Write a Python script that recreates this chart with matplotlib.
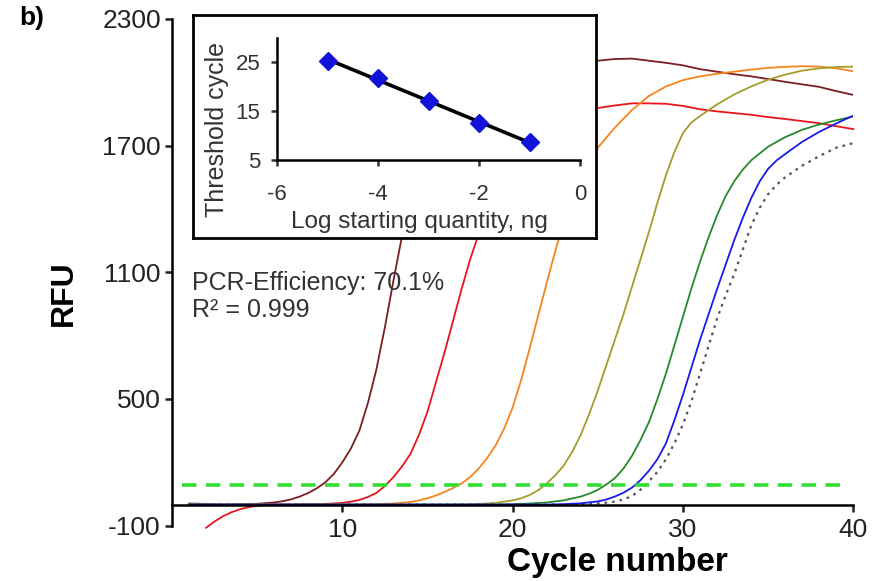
import numpy as np
import matplotlib
matplotlib.use("Agg")
import matplotlib.pyplot as plt

plt.rcParams['font.family'] = ['Liberation Sans', 'DejaVu Sans']
plt.rcParams['axes.unicode_minus'] = False

## amplification curves (cycle, RFU)
maroon_x = [1, 2, 3, 4, 5, 6, 6.5, 7, 7.5, 8, 8.5, 9, 9.5, 10, 10.5, 11, 11.5, 12, 12.5, 13, 13.5,
            14, 14.5, 15, 15.5, 16] + list(range(17, 41))
maroon_y = [5, 3, 0, 2, 4, 10, 16, 25, 38, 55, 77, 105, 145, 200, 265, 350, 480, 640, 840, 1060, 1270,
            1470, 1650, 1800, 1910, 1980,
            2060, 2090, 2095, 2100, 2098, 2100, 2102, 2100, 2102, 2110, 2112, 2102, 2092, 2080, 2062, 2050,
            2038, 2028, 2015, 2002, 1990, 1978, 1958, 1940]

red_x = [2, 2.5, 3, 3.5, 4, 4.5, 5, 6, 7, 8, 9, 10, 10.5, 11, 11.5, 12, 12.5, 13, 13.5, 14, 14.5, 15,
         15.5, 16, 16.5, 17, 17.5, 18, 18.5, 19, 19.5, 20] + list(range(21, 41))
red_y = [-110, -80, -55, -36, -22, -12, -6, 0, 0, 2, 3, 8, 14, 22, 36, 55, 88, 130, 180, 240, 330, 440,
         580, 720, 870, 1020, 1160, 1280, 1400, 1500, 1590, 1660,
         1760, 1820, 1850, 1868, 1878, 1890, 1900, 1900, 1898, 1888, 1872, 1862, 1854, 1846, 1835, 1826,
         1816, 1806, 1792, 1778]

orange_x = list(range(1, 14)) + [14, 14.5, 15, 15.5, 16, 16.5, 17, 17.5, 18, 18.5, 19, 19.5, 20, 20.5,
                                 21, 21.5, 22, 22.5, 23, 23.5, 24, 24.5, 25] + list(range(26, 41))
orange_y = [2, 0, -2, 0, 2, 0, 0, 0, 0, 0, 0, 2, 5,
            12, 20, 30, 43, 60, 78, 100, 130, 170, 220, 280, 360, 460, 590,
            740, 895, 1050, 1200, 1340, 1455, 1550, 1625, 1690,
            1785, 1868, 1935, 1980, 2010, 2028, 2040, 2050, 2060, 2068, 2073, 2076, 2074, 2066, 2052]

olive_x = list(range(1, 21)) + [20.5, 21, 21.5, 22, 22.5, 23, 23.5, 24, 24.5, 25, 25.5, 26, 26.5, 27,
                                27.5, 28, 28.5, 29, 29.5, 30, 30.5] + list(range(31, 41))
olive_y = [0, 0, 0, 0, 0, 0, 0, 0, 0, 0, 0, 0, 0, 0, 0, 0, 1, 3, 8, 20,
           30, 45, 68, 100, 138, 185, 250, 330, 430, 540, 660, 780, 900, 1030,
           1160, 1290, 1430, 1560, 1670, 1760, 1810,
           1840, 1895, 1942, 1980, 2012, 2036, 2055, 2066, 2072, 2074]

green_x = list(range(1, 25)) + [24.5, 25, 25.5, 26, 26.5, 27, 27.5, 28, 28.5, 29, 29.5, 30, 30.5, 31,
                                31.5, 32, 32.5, 33, 33.5, 34] + list(range(35, 41))
green_y = [0, 0, 0, 0, 0, 0, 0, 0, 0, 0, 0, 0, 0, 0, 0, 0, 0, 0, 0, 2, 5, 10, 20, 38,
           52, 70, 95, 125, 170, 230, 305, 390, 500, 620, 755, 890, 1025, 1150,
           1265, 1370, 1460, 1530, 1585, 1630,
           1695, 1740, 1775, 1800, 1820, 1838]

blue_x = list(range(1, 26)) + [25.5, 26, 26.5, 27, 27.5, 28, 28.5, 29, 29.5, 30, 30.5, 31, 31.5, 32,
                               32.5, 33, 33.5, 34, 34.5, 35, 35.5, 36] + list(range(37, 41))
blue_y = [0, 0, 0, 0, 0, 0, 0, 0, 0, 0, 0, 0, 0, 0, 0, 0, 0, 0, 0, 0, 0, 0, 2, 6, 15,
          24, 38, 56, 80, 115, 160, 215, 290, 400, 520, 650, 780, 900, 1020,
          1135, 1250, 1355, 1450, 1530, 1590, 1630, 1660,
          1718, 1765, 1805, 1842]

gray_x = list(range(1, 27)) + [26.5, 27, 27.5, 28, 28.5, 29, 29.5, 30, 30.5, 31, 31.5, 32, 32.5, 33,
                               33.5, 34, 34.5, 35, 35.5, 36] + list(range(37, 41))
gray_y = [0, 0, 0, 0, 0, 0, 0, 0, 0, 0, 0, 0, 0, 0, 0, 0, 0, 0, 0, 0, 0, 0, 0, 2, 5, 14,
          24, 40, 70, 110, 155, 215, 290, 380, 490, 620, 750, 880, 990, 1090,
          1205, 1320, 1405, 1470, 1515, 1550,
          1605, 1650, 1690, 1712]

threshold = 95
threshold_span = [0.6, 39.2]

## standard curve (inset)
log_qty = [-5, -4, -3, -2, -1]
ct = [25.3, 21.7, 17.1, 12.6, 8.6]

W, H = 885, 581
fig = plt.figure(figsize=(W / 100, H / 100), dpi=100)

ax = fig.add_axes([172 / W, 1 - 525.7 / H, (853.3 - 172) / W, (525.7 - 18.9) / H])
ax.plot(maroon_x, maroon_y, color='#7a1e22', lw=1.3)
ax.plot(red_x, red_y, color='#e8161b', lw=1.3, clip_on=False)
ax.plot(orange_x, orange_y, color='#f7841f', lw=1.3)
ax.plot(olive_x, olive_y, color='#a39d2e', lw=1.3)
ax.plot(green_x, green_y, color='#268a2c', lw=1.3)
ax.plot(gray_x, gray_y, color='#555555', lw=1.6, linestyle=(0, (1.2, 2.2)))
ax.plot(blue_x, blue_y, color='#1a1ae8', lw=1.3)
ax.plot(threshold_span, [threshold, threshold], color='#33dd33', lw=2.6,
        linestyle=(0, (4, 2.6)), zorder=5)

ax.set_xlim(0, 40)
ax.set_ylim(-100, 2300)
ax.set_xticks([10, 20, 30, 40])
ax.set_yticks([-100, 500, 1100, 1700, 2300])
ax.spines['top'].set_visible(False)
ax.spines['right'].set_visible(False)
ax.spines['bottom'].set_position(('data', 0))
ax.spines['left'].set_linewidth(1.8)
ax.spines['bottom'].set_linewidth(1.8)
ax.tick_params(axis='both', width=1.8, length=5, labelsize=19, colors='#222222')
ax.tick_params(axis='x', pad=5)
ax.tick_params(axis='y', pad=3)

fig.text(63.5 / W, 1 - 293 / H, 'RFU', rotation=90, fontsize=23, fontweight='bold',
         ha='center', va='center')
fig.text(617 / W, 1 - 562 / H, 'Cycle number', fontsize=24, fontweight='bold',
         ha='center', va='center')
fig.text(32 / W, 1 - 18 / H, 'b)', fontsize=19, fontweight='bold', ha='center', va='center')
fig.text(192 / W, 1 - 283 / H, 'PCR-Efficiency: 70.1%', fontsize=18, color='#333333', va='center')
fig.text(192 / W, 1 - 310 / H, 'R² = 0.999', fontsize=18, color='#333333', va='center')

## inset frame
box = fig.add_axes([193 / W, 1 - 238 / H, 403 / W, 223 / H], zorder=3)
box.set_facecolor('white')
box.set_xticks([])
box.set_yticks([])
for s in box.spines.values():
    s.set_linewidth(2)

ins = fig.add_axes([277 / W, 1 - 160 / H, 303 / W, 122.5 / H], zorder=4)
ins.set_facecolor('none')
slope, icpt = np.polyfit(log_qty, ct, 1)
fit_x = np.array([log_qty[0], log_qty[-1]])
ins.plot(fit_x, slope * fit_x + icpt, color='black', lw=2.6, zorder=2)
ins.plot(log_qty, ct, linestyle='none', marker='D', markersize=9.5, color='#1212d8', zorder=3)
ins.set_xlim(-6, 0)
ins.set_ylim(5, 30)
ins.set_xticks([-6, -4, -2, 0])
ins.set_yticks([5, 15, 25])
ins.spines['top'].set_visible(False)
ins.spines['right'].set_visible(False)
ins.spines['left'].set_linewidth(1.8)
ins.spines['bottom'].set_linewidth(1.8)
ins.tick_params(axis='both', width=1.8, length=4, labelsize=16, colors='#333333')
ins.tick_params(axis='x', pad=13)
ins.tick_params(axis='y', pad=8)
ins.set_xlabel('Log starting quantity, ng', fontsize=17.5, color='#333333', va='center')
ins.xaxis.set_label_coords(0.469, -0.505)
ins.set_ylabel('Threshold cycle', fontsize=18, color='#333333', va='center')
ins.yaxis.set_label_coords(-0.199, 0.245)

fig.savefig('out.png', dpi=100)
